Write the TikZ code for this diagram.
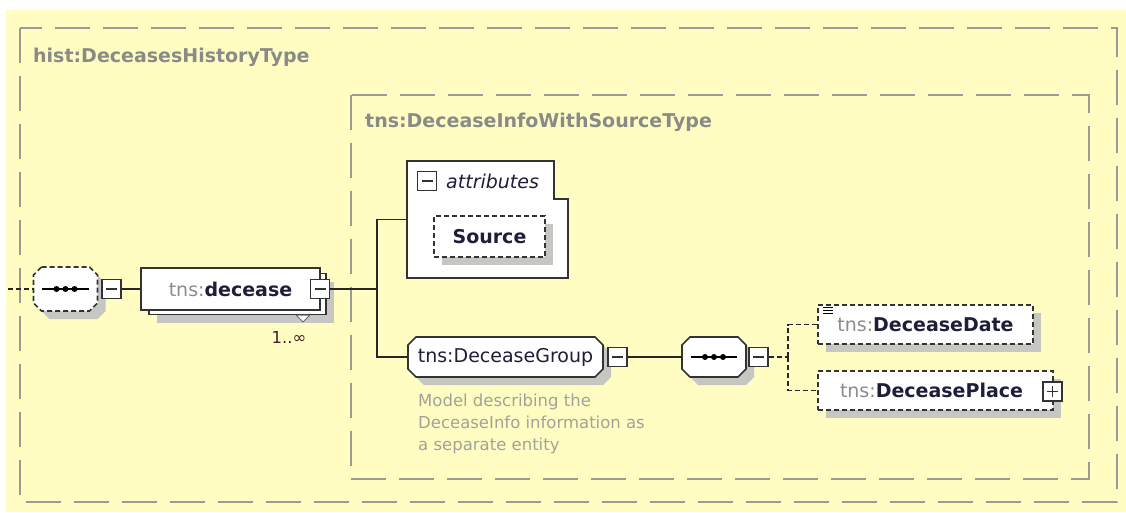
\documentclass[tikz,border=0pt]{standalone}
\usepackage{fontspec}
\setmainfont{DejaVu Sans}
\usetikzlibrary{shadows}

\definecolor{bgyellow}{HTML}{FFFDC2}
\definecolor{framegray}{HTML}{9A9A98}
\definecolor{titlegray}{HTML}{8A8A88}
\definecolor{tnsgray}{HTML}{8C8C8C}
\definecolor{namedark}{HTML}{1E1E3A}
\definecolor{notegray}{HTML}{A2A29A}
\definecolor{shadowgray}{HTML}{C6C6C2}
\definecolor{boxline}{HTML}{333333}

\newcommand{\tnspre}{\textcolor{tnsgray}{tns:}}
\newcommand{\ename}[1]{\textcolor{namedark}{\textbf{#1}}}

\tikzset{
	typeframe/.style={draw=framegray, line width=1.8pt, dash pattern=on 35pt off 13pt},
	typetitle/.style={anchor=west, inner sep=0pt, text=titlegray, font=\fontsize{19}{23}\selectfont\bfseries},
	shade/.style={drop shadow={shadow xshift=8pt, shadow yshift=-8pt, fill=shadowgray, opacity=1}},
	elembox/.style={draw=boxline, fill=white, line width=1.6pt, inner sep=0pt, shade},
	optdash/.style={dash pattern=on 5pt off 3pt},
	optbox/.style={elembox, optdash},
	toggle/.style={draw=boxline, fill=white, line width=1.3pt, minimum size=19pt, inner sep=0pt,
		path picture={\draw[boxline, line width=1.3pt] ([xshift=4pt]path picture bounding box.west) -- ([xshift=-4pt]path picture bounding box.east);}},
	expander/.style={toggle,
		path picture={\draw[boxline, line width=1.3pt] ([xshift=4pt]path picture bounding box.west) -- ([xshift=-4pt]path picture bounding box.east) ([yshift=-4pt]path picture bounding box.north) -- ([yshift=4pt]path picture bounding box.south);}},
	link/.style={draw=black!85, line width=1.4pt},
	optlink/.style={link, optdash}
}

% octagon outline: half width, half height, offset
\newcommand{\octpath}[3]{(-#1+8+#3,-#2+#3) -- (#1-8+#3,-#2+#3) -- (#1+#3,-#2+8+#3) -- (#1+#3,#2-8+#3) -- (#1-8+#3,#2+#3) -- (-#1+8+#3,#2+#3) -- (-#1+#3,#2-8+#3) -- (-#1+#3,-#2+8+#3) -- cycle}
\newcommand{\octbox}[4][]{%
	\begin{scope}[shift={#2}]
		\fill[shadowgray] \octpath{#3}{#4}{8};
		\draw[draw=boxline, fill=white, line width=1.6pt, #1] \octpath{#3}{#4}{0};
	\end{scope}}
\newcommand{\seqdots}[1]{%
	\draw[black, line width=1.4pt] ([xshift=9pt]#1.west) -- ([xshift=-9pt]#1.east);
	\foreach \dx in {-9,0,9} \fill[black] ([xshift=\dx pt]#1.center) circle (3pt);}

\begin{document}
\begin{tikzpicture}[x=1pt, y=-1pt, font=\fontsize{19}{23}\selectfont]
	\useasboundingbox (0,0) rectangle (1126,512);
	\fill[bgyellow] (6,10) rectangle (1126,512);

	\draw[typeframe] (20,28) rectangle (1117,502);
	\node[typetitle] (histtitle) at (33,57) {hist:DeceasesHistoryType};
	\draw[typeframe] (351,95) rectangle (1089,479);
	\node[typetitle] (infotitle) at (365,122) {tns:DeceaseInfoWithSourceType};

	\coordinate (in) at (8,289);
	\octbox[optdash]{(65.5,289)}{32}{22}
	\node[minimum width=64pt, minimum height=44pt, inner sep=0pt] (seqa) at (65.5,289) {};
	\seqdots{seqa}
	\node[toggle] (seqamin) at (111.5,289) {};

	\node[elembox, minimum width=177pt, minimum height=41pt] (decback) at (237.5,294) {};
	\node[draw=boxline, fill=white, line width=1.6pt, minimum width=179pt, minimum height=42pt] (dec) at (230.5,289) {\tnspre\ename{decease}};
	\node[toggle] (decmin) at (320,289) {};
	\draw[framegray!70!black, line width=1pt, fill=white] (296,315) -- (310,315) -- (303,322) -- cycle;
	\node[inner sep=0pt, text=namedark!80!red, font=\fontsize{16.5}{20}\selectfont] (occurs) at (289,337) {1..∞};

	\coordinate (j) at (377,289);
	\node[minimum width=161pt, minimum height=117pt, inner sep=0pt] (attr) at (487.5,219.5) {};
	\draw[draw=boxline, fill=white, line width=1.6pt] (attr.south west) -- (attr.north west) -- ([xshift=-14pt]attr.north east) -- ([xshift=-14pt, yshift=-38pt]attr.north east) -- ([yshift=-38pt]attr.north east) -- (attr.south east) -- cycle;
	\node[toggle] (attrmin) at (427,181) {};
	\node[anchor=west, inner sep=0pt, text=namedark] (attrlabel) at (446,181) {\itshape attributes};
	\node[optbox, minimum width=111pt, minimum height=41pt] (src) at (489.5,236.5) {\ename{Source}};

	\octbox{(505.5,357)}{97.5}{20}
	\node[minimum width=195pt, minimum height=40pt, inner sep=0pt] (grp) at (505.5,357) {\textcolor{namedark}{tns:DeceaseGroup}};
	\node[toggle] (grpmin) at (617.5,357) {};
	\node[anchor=north west, align=left, inner sep=0pt, text=notegray, font=\fontsize{16.5}{22}\selectfont] (grpnote) at (418,394) {Model describing the\\DeceaseInfo information as\\a separate entity};

	\octbox{(714,357)}{32}{20}
	\node[minimum width=64pt, minimum height=40pt, inner sep=0pt] (seqb) at (714,357) {};
	\seqdots{seqb}
	\node[toggle] (seqbmin) at (758.5,357) {};
	\coordinate (jb) at (788,357);

	\node[optbox, minimum width=215pt, minimum height=39pt] (ddate) at (925.5,324.5) {\tnspre\ename{DeceaseDate}};
	\foreach \ly in {307,310,313} \draw[black, line width=1pt] (823,\ly) -- (833,\ly);
	\node[optbox, minimum width=235pt, minimum height=39pt] (dplace) at (935.5,390.5) {\tnspre\ename{DeceasePlace}\hspace*{8pt}};
	\node[expander] (dplaceplus) at (1052.5,391.5) {};

	\draw[optlink] (in) -- (seqa.west);
	\draw[link] (seqamin.east) -- (dec.west);
	\draw[link] (decmin.east) -- (j);
	\draw[link] (j) |- (attr.west);
	\draw[link] (j) |- (grp.west);
	\draw[link] (grpmin.east) -- (seqb.west);
	\draw[optlink] (seqbmin.east) -- (jb);
	\draw[optlink] (jb) |- (ddate.west);
	\draw[optlink] (jb) |- (dplace.west);
\end{tikzpicture}
\end{document}
